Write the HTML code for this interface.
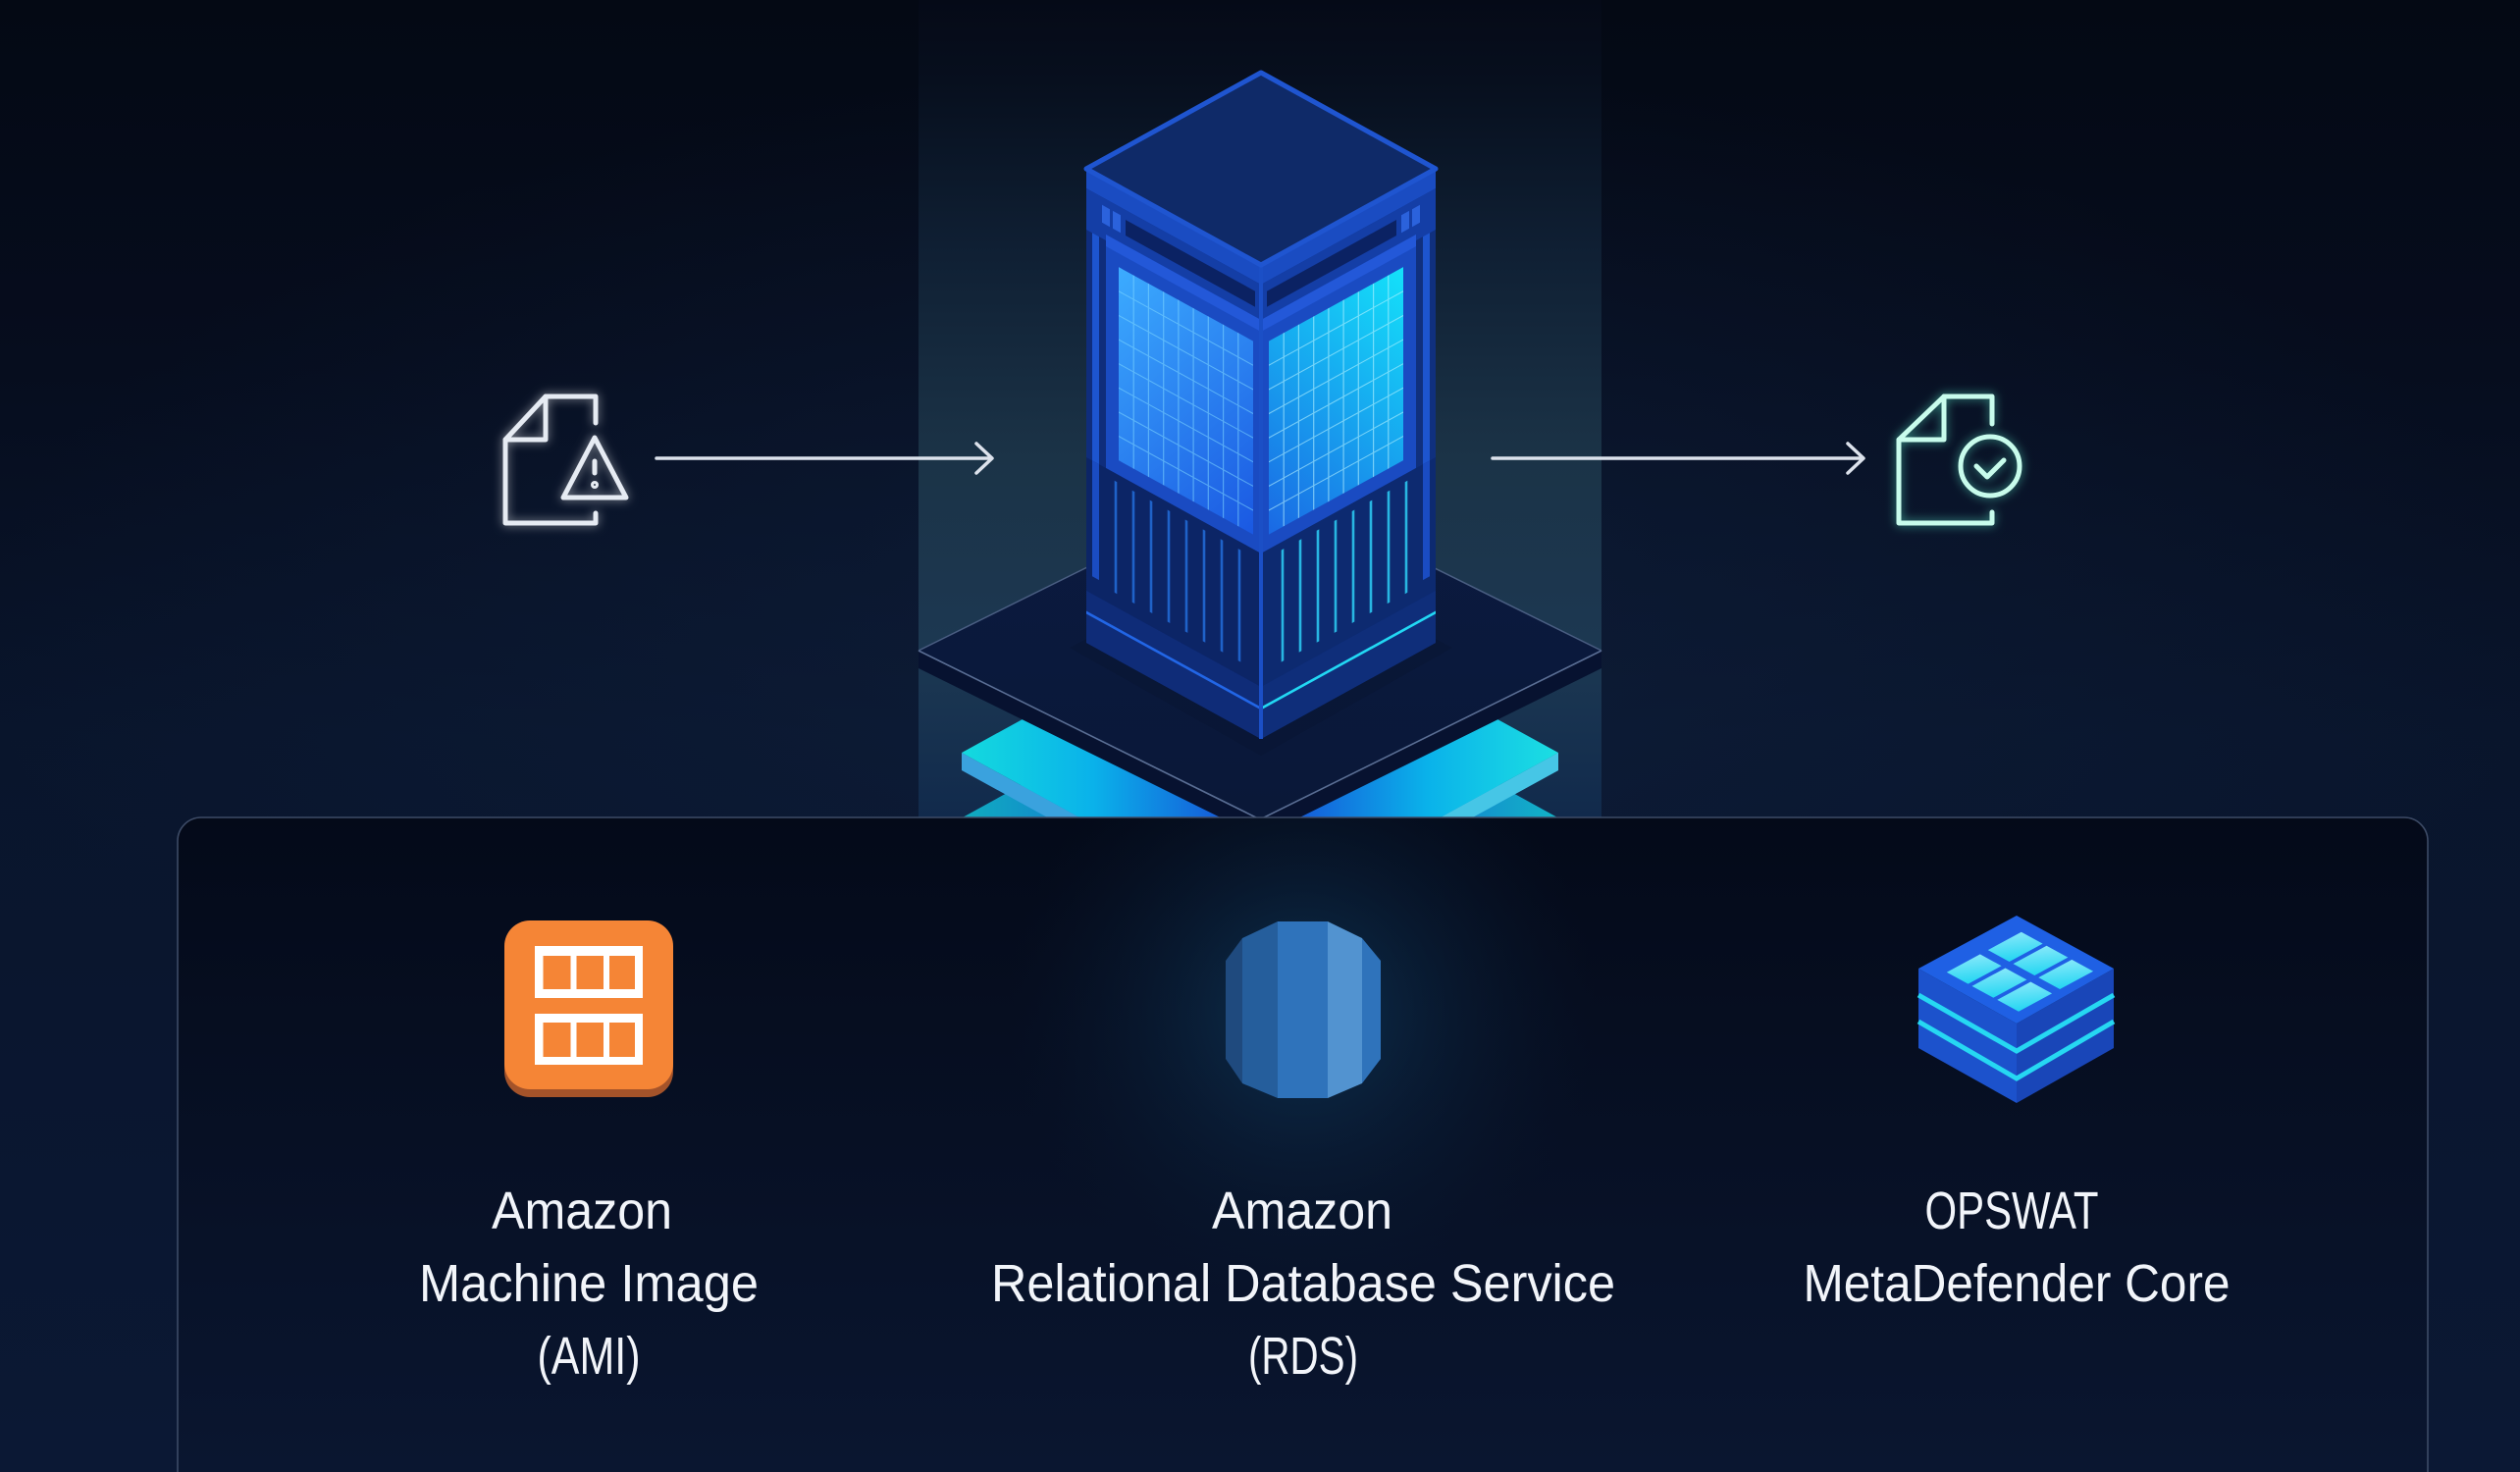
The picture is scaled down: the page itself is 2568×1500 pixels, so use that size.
<!DOCTYPE html>
<html>
<head>
<meta charset="utf-8">
<style>
html,body{margin:0;padding:0;background:#050b1a;}
body{width:2568px;height:1500px;overflow:hidden;}
svg{display:block;}
</style>
</head>
<body>
<svg width="2568" height="1500" viewBox="0 0 2568 1500" xmlns="http://www.w3.org/2000/svg">
<defs>
  <linearGradient id="bg" x1="0" y1="0" x2="0" y2="1">
    <stop offset="0" stop-color="#040914"/>
    <stop offset="0.25" stop-color="#060d1e"/>
    <stop offset="0.5" stop-color="#09152c"/>
    <stop offset="1" stop-color="#0b1834"/>
  </linearGradient>
  <radialGradient id="bgGlow" cx="1284" cy="650" r="1300" gradientUnits="userSpaceOnUse" gradientTransform="translate(1284 650) scale(1 0.45) translate(-1284 -650)">
    <stop offset="0" stop-color="#10213f" stop-opacity="0.6"/>
    <stop offset="1" stop-color="#10213f" stop-opacity="0"/>
  </radialGradient>
  <linearGradient id="col" x1="0" y1="0" x2="0" y2="833" gradientUnits="userSpaceOnUse">
    <stop offset="0" stop-color="#050a17"/>
    <stop offset="0.1" stop-color="#070f1e"/>
    <stop offset="0.3" stop-color="#0f1f33"/>
    <stop offset="0.56" stop-color="#1b3347"/>
    <stop offset="0.8" stop-color="#1c3852"/>
    <stop offset="1" stop-color="#112a4c"/>
  </linearGradient>
  <linearGradient id="panel" x1="0" y1="833" x2="0" y2="1500" gradientUnits="userSpaceOnUse">
    <stop offset="0" stop-color="#040a19"/>
    <stop offset="1" stop-color="#0a1630"/>
  </linearGradient>
  <radialGradient id="rdsGlow" cx="1327" cy="1030" r="300" gradientUnits="userSpaceOnUse">
    <stop offset="0" stop-color="#124a72" stop-opacity="0.6"/>
    <stop offset="0.5" stop-color="#0d2c4a" stop-opacity="0.35"/>
    <stop offset="1" stop-color="#0a1a30" stop-opacity="0"/>
  </radialGradient>
  <linearGradient id="slab" x1="980" y1="0" x2="1588" y2="0" gradientUnits="userSpaceOnUse">
    <stop offset="0" stop-color="#14dade"/>
    <stop offset="0.22" stop-color="#0ab2ea"/>
    <stop offset="0.45" stop-color="#1656d8"/>
    <stop offset="0.55" stop-color="#1656d8"/>
    <stop offset="0.78" stop-color="#0ab2ea"/>
    <stop offset="1" stop-color="#1cdfe2"/>
  </linearGradient>
  <linearGradient id="slab2" x1="950" y1="0" x2="1618" y2="0" gradientUnits="userSpaceOnUse">
    <stop offset="0" stop-color="#0fb8bc"/>
    <stop offset="0.3" stop-color="#1470d4"/>
    <stop offset="0.5" stop-color="#0f2f80"/>
    <stop offset="0.7" stop-color="#1470d4"/>
    <stop offset="1" stop-color="#12c0c4"/>
  </linearGradient>
  <linearGradient id="scrL" x1="0" y1="0" x2="1" y2="1">
    <stop offset="0" stop-color="#3cacff"/>
    <stop offset="1" stop-color="#1a58e2"/>
  </linearGradient>
  <linearGradient id="scrR" x1="1" y1="0" x2="0" y2="1">
    <stop offset="0" stop-color="#14e2fa"/>
    <stop offset="1" stop-color="#1a68e4"/>
  </linearGradient>
  <linearGradient id="platTop" x1="0" y1="491" x2="0" y2="835" gradientUnits="userSpaceOnUse">
    <stop offset="0" stop-color="#0b1a40"/>
    <stop offset="1" stop-color="#0a1838"/>
  </linearGradient>
  <linearGradient id="tile" x1="0" y1="0" x2="1" y2="1">
    <stop offset="0" stop-color="#86e8fa"/>
    <stop offset="1" stop-color="#22d6f2"/>
  </linearGradient>
  <filter id="glowW" x="-50%" y="-50%" width="200%" height="200%">
    <feGaussianBlur in="SourceAlpha" stdDeviation="5" result="b"/>
    <feFlood flood-color="#ffffff" flood-opacity="0.55"/>
    <feComposite in2="b" operator="in" result="g"/>
    <feMerge><feMergeNode in="g"/><feMergeNode in="SourceGraphic"/></feMerge>
  </filter>
  <filter id="glowT" x="-50%" y="-50%" width="200%" height="200%">
    <feGaussianBlur in="SourceAlpha" stdDeviation="5" result="b"/>
    <feFlood flood-color="#5cf5cf" flood-opacity="0.6"/>
    <feComposite in2="b" operator="in" result="g"/>
    <feMerge><feMergeNode in="g"/><feMergeNode in="SourceGraphic"/></feMerge>
  </filter>
  <clipPath id="rdsClip">
    <polygon points="1302,939 1353,939 1388,956 1407,979 1407,1079 1388,1104 1353,1119 1302,1119 1266,1104 1249,1079 1249,979 1266,956"/>
  </clipPath>
  <clipPath id="abovePanel">
    <rect x="0" y="0" width="2568" height="834"/>
  </clipPath>
</defs>

<!-- background -->
<rect x="0" y="0" width="2568" height="1500" fill="url(#bg)"/>
<rect x="0" y="0" width="2568" height="1500" fill="url(#bgGlow)"/>

<!-- light column -->
<rect x="936" y="0" width="696" height="834" fill="url(#col)"/>

<g clip-path="url(#abovePanel)">
  <!-- lower slab (second layer) -->
  <polygon points="950,850 1284,666 1618,850 1284,1034" fill="url(#slab2)"/>
  <!-- slab 1 side -->
  <polygon points="980,767 980,785 1284,952 1588,785 1588,767 1284,934" fill="#3aa2de"/>
  <polygon points="1284,934 1588,767 1588,785 1284,952" fill="#46c6e6"/>
  <!-- slab 1 top -->
  <polygon points="980,767 1284,600 1588,767 1284,934" fill="url(#slab)"/>

  <!-- platform -->
  <polygon points="936,663 936,681 1284,853 1632,681 1632,663 1284,835" fill="#071230"/>
  <polygon points="936,663 1284,491 1632,663 1284,835" fill="url(#platTop)"/>
  <polyline points="936,663 1284,835 1632,663" fill="none" stroke="#5a6e94" stroke-width="1.6"/>
  <polyline points="936,663 1284,491 1632,663" fill="none" stroke="#4a5e82" stroke-width="1.5"/>
  <polygon points="1090,660 1285,770 1480,660 1285,560" fill="#081633" opacity="0.6"/>
</g>

<!-- TOWER -->
<g transform="matrix(1 0.5506 0 1 1107 172)">
  <rect x="0" y="0" width="178" height="483" fill="#0f2d7c"/>
  <rect x="0" y="0" width="178" height="20" fill="#1a4cc2"/>
  <rect x="0" y="20" width="178" height="42" fill="#143ea6"/>
  <rect x="40" y="30" width="132" height="16" fill="#0b2263"/>
  <rect x="16" y="28" width="8" height="18" fill="#2b62dc"/>
  <rect x="27" y="28" width="8" height="18" fill="#2b62dc"/>
  <rect x="6" y="62" width="7" height="350" fill="#1d55cf"/>
  <rect x="20" y="56" width="158" height="238" fill="#1a4bc2"/>
  <rect x="20" y="56" width="158" height="12" fill="#2358d8"/>
  <rect x="33" y="82" width="137" height="197" fill="url(#scrL)"/>
  <path d="M48.2 82V279M63.4 82V279M78.7 82V279M93.9 82V279M109.1 82V279M124.3 82V279M139.6 82V279M154.8 82V279M33 106.6H170M33 131.3H170M33 155.9H170M33 180.5H170M33 205.1H170M33 229.8H170M33 254.4H170" stroke="#7fd8ff" stroke-opacity="0.55" stroke-width="1.2" fill="none"/>
  <rect x="0" y="294" width="178" height="136" fill="#0c2566"/>
  <rect x="6" y="294" width="7" height="118" fill="#1a4cc2"/>
  <path d="M30 302V416M48 302V416M66 302V416M84 302V416M102 302V416M120 302V416M138 302V416M156 302V416" stroke="#1f62c8" stroke-width="2.6" fill="none"/>
  <rect x="0" y="430" width="178" height="53" fill="#0f2c78"/>
  <line x1="0" y1="452" x2="178" y2="452" stroke="#2266e6" stroke-width="3"/>
</g>
<g transform="matrix(1 -0.5506 0 1 1285 270)">
  <rect x="0" y="0" width="178" height="483" fill="#10307e"/>
  <rect x="0" y="0" width="178" height="20" fill="#1a4cc2"/>
  <rect x="0" y="20" width="178" height="42" fill="#143ea6"/>
  <rect x="6" y="30" width="132" height="16" fill="#0b2263"/>
  <rect x="143" y="28" width="8" height="18" fill="#2b62dc"/>
  <rect x="154" y="28" width="8" height="18" fill="#2b62dc"/>
  <rect x="165" y="62" width="7" height="350" fill="#1d55cf"/>
  <rect x="0" y="56" width="158" height="238" fill="#1a4bc2"/>
  <rect x="0" y="56" width="158" height="12" fill="#2358d8"/>
  <rect x="8" y="82" width="137" height="197" fill="url(#scrR)"/>
  <path d="M23.2 82V279M38.4 82V279M53.7 82V279M68.9 82V279M84.1 82V279M99.3 82V279M114.6 82V279M129.8 82V279M8 106.6H145M8 131.3H145M8 155.9H145M8 180.5H145M8 205.1H145M8 229.8H145M8 254.4H145" stroke="#b8f4ff" stroke-opacity="0.6" stroke-width="1.2" fill="none"/>
  <rect x="0" y="294" width="178" height="136" fill="#0d2a70"/>
  <rect x="165" y="294" width="7" height="118" fill="#1a4cc2"/>
  <path d="M22 302V416M40 302V416M58 302V416M76 302V416M94 302V416M112 302V416M130 302V416M148 302V416" stroke="#28b6e2" stroke-width="2.6" fill="none"/>
  <rect x="0" y="430" width="178" height="53" fill="#0f2e7a"/>
  <line x1="0" y1="452" x2="178" y2="452" stroke="#22d8f4" stroke-width="3"/>
</g>
<line x1="1285" y1="270" x2="1285" y2="753" stroke="#1b4fc6" stroke-width="4"/>
<polygon points="1285,74 1107,172 1285,270 1463,172" fill="#0f2a68" stroke="#1f55d0" stroke-width="5" stroke-linejoin="round"/>

<!-- arrows -->
<g stroke="#dce2ec" stroke-width="3.5" fill="none" stroke-linecap="round" stroke-linejoin="round">
  <line x1="669" y1="467" x2="1010" y2="467"/>
  <polyline points="995,452 1011,467 995,482"/>
  <line x1="1521" y1="467" x2="1898" y2="467"/>
  <polyline points="1883,452 1899,467 1883,482"/>
</g>

<!-- left file warning icon -->
<g filter="url(#glowW)" stroke="#e6ebf3" stroke-width="5" fill="none" stroke-linecap="round" stroke-linejoin="round">
  <polyline points="607,431 607,404 556,404 515,448 515,533 607,533 607,523"/>
  <polyline points="556,404 556,448 515,448"/>
  <polygon points="606,446 574,507 638,507"/>
  <line x1="606" y1="470" x2="606" y2="482"/>
  <circle cx="606" cy="494" r="2.5" stroke-width="3"/>
</g>

<!-- right file check icon -->
<g filter="url(#glowT)" stroke="#c8fcec" stroke-width="5" fill="none" stroke-linecap="round" stroke-linejoin="round">
  <polyline points="2030,432 2030,404 1981,404 1935,448 1935,533 2030,533 2030,522"/>
  <polyline points="1981,404 1981,448 1935,448"/>
  <circle cx="2028" cy="475" r="30"/>
  <polyline points="2014,475 2025,486 2042,469"/>
</g>

<!-- PANEL -->
<rect x="181" y="833" width="2293" height="720" rx="24" ry="24" fill="url(#panel)" stroke="#3d4b66" stroke-width="1.6"/>
<rect x="182" y="834" width="2291" height="666" fill="url(#rdsGlow)"/>

<!-- AMI icon -->
<rect x="514" y="946" width="172" height="172" rx="26" fill="#a4532a"/>
<rect x="514" y="938" width="172" height="172" rx="26" fill="#f58536"/>
<rect x="545" y="964" width="110" height="53" fill="#ffffff"/>
<rect x="553.5" y="974" width="28" height="34" fill="#f58536"/>
<rect x="587.5" y="974" width="27.5" height="34" fill="#f58536"/>
<rect x="621" y="974" width="26" height="34" fill="#f58536"/>
<rect x="545" y="1033" width="110" height="52" fill="#ffffff"/>
<rect x="553.5" y="1042" width="28" height="35" fill="#f58536"/>
<rect x="587.5" y="1042" width="27.5" height="35" fill="#f58536"/>
<rect x="621" y="1042" width="26" height="35" fill="#f58536"/>

<!-- RDS icon -->
<g clip-path="url(#rdsClip)">
  <rect x="1240" y="930" width="26" height="200" fill="#1f4a7e"/>
  <rect x="1266" y="930" width="36" height="200" fill="#255e9c"/>
  <rect x="1302" y="930" width="51" height="200" fill="#2f73bb"/>
  <rect x="1353" y="930" width="35" height="200" fill="#5293d0"/>
  <rect x="1388" y="930" width="25" height="200" fill="#2f73bb"/>
</g>

<!-- MetaDefender cube -->
<polygon points="1955,987 2055,1043 2055,1124 1955,1068" fill="#1c52cc"/>
<polygon points="2055,1043 2154,987 2154,1068 2055,1124" fill="#1946b8"/>
<polyline points="1955,1014 2055,1071 2154,1014" fill="none" stroke="#26d8f2" stroke-width="5"/>
<polyline points="1955,1041 2055,1099 2154,1041" fill="none" stroke="#26d8f2" stroke-width="5"/>
<polygon points="2055,933 1955,987 2055,1043 2154,987" fill="#1f60e4"/>
<g transform="matrix(-100 54 99 54 2055 933)" fill="url(#tile)">
  <rect x="0.13" y="0.18" width="0.34" height="0.22"/>
  <rect x="0.13" y="0.44" width="0.34" height="0.22"/>
  <rect x="0.13" y="0.70" width="0.34" height="0.22"/>
  <rect x="0.55" y="0.18" width="0.34" height="0.22"/>
  <rect x="0.55" y="0.44" width="0.34" height="0.22"/>
  <rect x="0.55" y="0.70" width="0.34" height="0.22"/>
</g>

<!-- labels -->
<g font-family="'Liberation Sans', 'DejaVu Sans', sans-serif" font-size="54" fill="#f2f5fa" text-anchor="middle">
  <text x="593" y="1252" textLength="184" lengthAdjust="spacingAndGlyphs">Amazon</text>
  <text x="600" y="1326" textLength="346" lengthAdjust="spacingAndGlyphs">Machine Image</text>
  <text x="600" y="1400" textLength="105" lengthAdjust="spacingAndGlyphs">(AMI)</text>

  <text x="1327" y="1252" textLength="184" lengthAdjust="spacingAndGlyphs">Amazon</text>
  <text x="1328" y="1326" textLength="636" lengthAdjust="spacingAndGlyphs">Relational Database Service</text>
  <text x="1328" y="1400" textLength="112" lengthAdjust="spacingAndGlyphs">(RDS)</text>

  <text x="2050" y="1252" textLength="177" lengthAdjust="spacingAndGlyphs">OPSWAT</text>
  <text x="2055" y="1326" textLength="435" lengthAdjust="spacingAndGlyphs">MetaDefender Core</text>
</g>
</svg>
</body>
</html>
